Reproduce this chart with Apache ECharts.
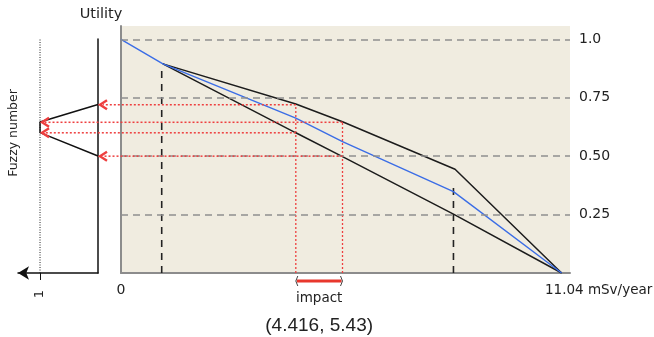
<!DOCTYPE html>
<html><head><meta charset="utf-8">
<script src="https://cdn.jsdelivr.net/npm/echarts@6/dist/echarts.min.js"></script>
<style>html,body{margin:0;padding:0;background:#fff}#c{width:654px;height:337px}</style>
</head><body><div id="c"></div>
<script>
// ---- data ----
const xMax = 11.25;
const yMax = 1.057;
const yTickValues = [0.25, 0.5, 0.75, 1.0];
const yTickLabels = ['0.25', '0.50', '0.75', '1.0'];
const xTickValues = [0, 11.04];
const xTickLabels = ['0', '11.04 mSv/year'];
const blueX = [0, 1.05, 4.38, 5.55, 8.33, 11.04];
const blueY = [1.0, 0.895, 0.663, 0.562, 0.348, 0];
const upperX = [1.05, 4.38, 5.55, 8.37, 11.04];
const upperY = [0.895, 0.723, 0.647, 0.444, 0];
const lowerX = [1.05, 4.38, 5.55, 8.33, 11.04];
const lowerY = [0.895, 0.600, 0.498, 0.252, 0];
const guideX = [1.02, 8.33];
const guideTop = [0.87, 0.37];
const impactX = [4.38, 5.55];
const impactTop = [0.723, 0.647];
const fuzzyLevels = [0.72, 0.645, 0.60, 0.50];
const fuzzyFromX = [4.38, 5.55, 4.38, 5.55];
const fuzzyPanelX = [0, 1, 1, 0];
const panelMax = 1.38;
const panelTickValues = [1];
const panelTickLabels = ['1'];

// ---- style ----
const FONT = 'DejaVu Sans';
const TXT = '#222';
const RED = '#ee3f3f';
const zip = (xs, ys) => xs.map((x, i) => [x, ys[i]]);
const lineSeries = (data, color, width, type, xi, yi, extra) => Object.assign({
  type: 'line', data, xAxisIndex: xi, yAxisIndex: yi, symbol: 'none', showSymbol: false,
  silent: true, animation: false,
  lineStyle: { color, width, type }
}, extra || {});

const series = [];
series.push(lineSeries([], '#888', 1.5, 'solid', 0, 0, {
  markLine: {
    silent: true, symbol: 'none', animation: false, label: { show: false },
    lineStyle: { color: '#8e8e8e', width: 1.6, type: [7, 5] },
    data: yTickValues.map(v => ({ yAxis: v }))
  }
}));
guideX.forEach((x, i) => series.push(lineSeries([[x, 0], [x, guideTop[i]]], '#222', 1.6, [7, 6], 0, 0)));
impactX.forEach((x, i) => series.push(lineSeries([[x, 0], [x, impactTop[i]]], RED, 1.3, [2, 2], 0, 0)));
series.push(lineSeries(zip(upperX, upperY), '#1c1c1c', 1.5, 'solid', 0, 0));
series.push(lineSeries(zip(lowerX, lowerY), '#1c1c1c', 1.5, 'solid', 0, 0));
series.push(lineSeries(zip(blueX, blueY), '#3b6de6', 1.4, 'solid', 0, 0));
series.push(lineSeries([[1, 0], [1, 1]], '#222', 1, [1, 1.5], 1, 2));
series.push(lineSeries(zip(fuzzyPanelX, fuzzyLevels), '#111', 1.5, 'solid', 1, 2));

const chart = echarts.init(document.getElementById('c'), null, { renderer: 'canvas' });
const idx = (arr, v) => arr.findIndex(a => Math.abs(a - v) < 1e-6);

chart.setOption({
  animation: false,
  backgroundColor: '#fff',
  grid: [
    { left: 121, top: 26, width: 449, height: 247, show: true, backgroundColor: '#f0ece0', borderWidth: 0, containLabel: false, outerBoundsMode: 'none' },
    { left: 18, top: 39, width: 80, height: 234, containLabel: false, outerBoundsMode: 'none' }
  ],
  xAxis: [
    {
      gridIndex: 0, type: 'value', min: 0, max: xMax,
      axisLine: { show: true, onZero: false, lineStyle: { color: '#8c8c8c', width: 2 } },
      axisTick: { show: false }, splitLine: { show: false },
      axisLabel: {
        customValues: xTickValues, margin: 10, color: TXT, fontSize: 14, fontFamily: FONT,
        formatter: v => { const i = idx(xTickValues, v); if (i < 0) return ''; return i === 0 ? xTickLabels[i] : '{r|' + xTickLabels[i] + '}'; },
        rich: { r: { padding: [0, 0, 0, 74], fontSize: 13.5, fontFamily: FONT, color: TXT } }
      }
    },
    {
      gridIndex: 1, type: 'value', inverse: true, min: 0, max: panelMax,
      axisLine: { show: true, onZero: false, symbol: ['arrow', 'none'], symbolSize: [10, 11], symbolOffset: [0, 3], lineStyle: { color: '#111', width: 1.5 } },
      axisTick: { show: true, customValues: panelTickValues, length: 7, lineStyle: { color: '#111', width: 1 } },
      splitLine: { show: false },
      axisLabel: {
        customValues: panelTickValues, rotate: 90, margin: 17, color: TXT, fontSize: 13, fontFamily: FONT,
        formatter: v => { const i = idx(panelTickValues, v); return i < 0 ? '' : panelTickLabels[i]; }
      }
    }
  ],
  yAxis: [
    {
      gridIndex: 0, type: 'value', position: 'right', min: 0, max: yMax,
      axisLine: { show: false }, axisTick: { show: false }, splitLine: { show: false },
      axisLabel: {
        customValues: yTickValues, margin: 9, color: TXT, fontSize: 14, fontFamily: FONT, align: 'left',
        formatter: v => { const i = idx(yTickValues, v); return i < 0 ? '' : yTickLabels[i]; }
      }
    },
    {
      gridIndex: 0, type: 'value', position: 'left', min: 0, max: yMax,
      axisLine: { show: true, onZero: false, lineStyle: { color: '#8c8c8c', width: 2 } },
      axisTick: { show: false }, axisLabel: { show: false }, splitLine: { show: false }
    },
    {
      gridIndex: 1, type: 'value', position: 'right', min: 0, max: 1,
      axisLine: { show: true, onZero: false, lineStyle: { color: '#111', width: 1.5 } },
      axisTick: { show: false }, axisLabel: { show: false }, splitLine: { show: false }
    }
  ],
  series
});

// ---- annotations positioned through the library's scales ----
const g = [];
fuzzyLevels.forEach((lv, i) => {
  const a = chart.convertToPixel({ gridIndex: 0 }, [fuzzyFromX[i], lv]);
  const b = chart.convertToPixel({ gridIndex: 1 }, [fuzzyPanelX[i], lv]);
  const tip = b[0] + 2, y = a[1];
  g.push({ type: 'line', z: 10, silent: true, shape: { x1: a[0], y1: y, x2: tip + 3, y2: y }, style: { stroke: RED, lineWidth: 1.5, lineDash: [2, 2] } });
  g.push({ type: 'polyline', z: 11, silent: true, shape: { points: [[tip + 7, y - 4.5], [tip, y], [tip + 7, y + 4.5]] }, style: { stroke: RED, lineWidth: 2.4, fill: null } });
});
const p1 = chart.convertToPixel({ gridIndex: 0 }, [impactX[0], 0]);
const p2 = chart.convertToPixel({ gridIndex: 0 }, [impactX[1], 0]);
const by = p1[1] + 8;
g.push({ type: 'line', z: 10, silent: true, shape: { x1: p1[0] + 1, y1: by, x2: p2[0] - 1, y2: by }, style: { stroke: '#e8372c', lineWidth: 3 } });
g.push({ type: 'polyline', z: 11, silent: true, shape: { points: [[p1[0] + 2, by - 5], [p1[0], by], [p1[0] + 2, by + 5]] }, style: { stroke: '#444', lineWidth: 1, fill: null } });
g.push({ type: 'polyline', z: 11, silent: true, shape: { points: [[p2[0] - 2, by - 5], [p2[0], by], [p2[0] - 2, by + 5]] }, style: { stroke: '#444', lineWidth: 1, fill: null } });
const mid = (p1[0] + p2[0]) / 2;
g.push({ type: 'text', z: 12, silent: true, x: mid, y: by + 17, style: { text: 'impact', fill: TXT, font: '13.5px "DejaVu Sans"', align: 'center', verticalAlign: 'middle' } });
g.push({ type: 'text', z: 12, silent: true, x: mid, y: by + 45, style: { text: '(4.416, 5.43)', fill: TXT, font: '19px "Liberation Sans"', align: 'center', verticalAlign: 'middle' } });
g.push({ type: 'text', z: 12, silent: true, x: 101, y: 14, style: { text: 'Utility', fill: TXT, font: '14.5px "DejaVu Sans"', align: 'center', verticalAlign: 'middle' } });
g.push({ type: 'text', z: 12, silent: true, x: 14, y: 133, rotation: Math.PI / 2, style: { text: 'Fuzzy number', fill: TXT, font: '12.5px "DejaVu Sans"', align: 'center', verticalAlign: 'middle' } });
chart.setOption({ graphic: g });
</script>
</body></html>
